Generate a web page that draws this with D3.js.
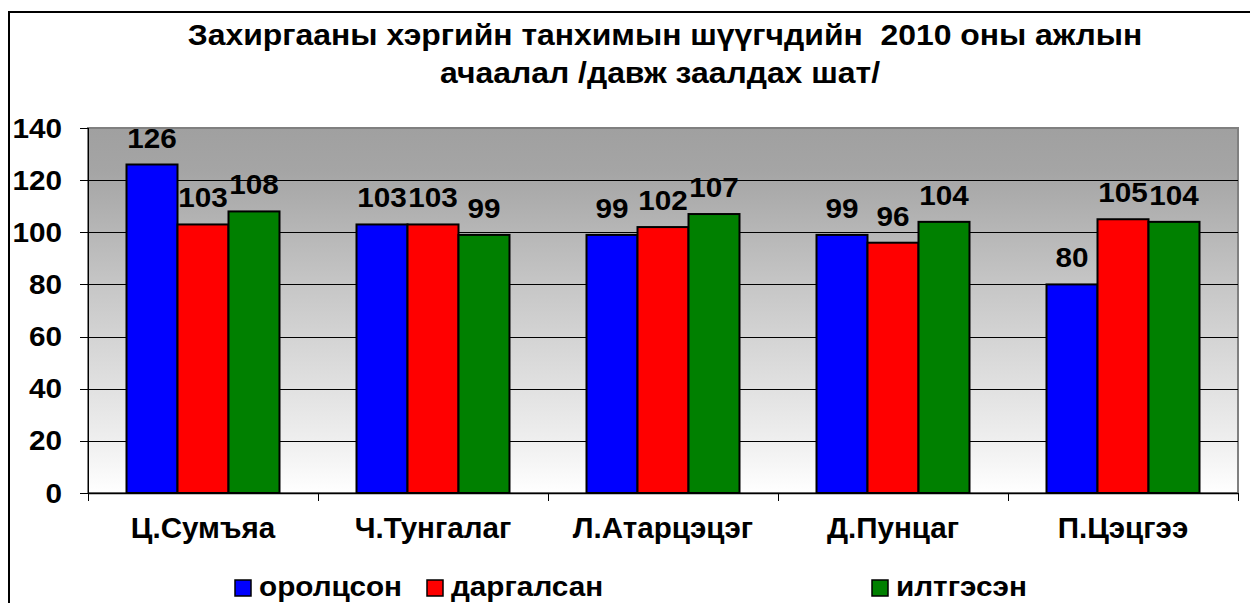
<!DOCTYPE html>
<html>
<head>
<meta charset="utf-8">
<script src="https://cdn.jsdelivr.net/npm/d3@7"></script>
<style>
html,body{margin:0;padding:0;background:#fff;}
svg{display:block;}
text{font-family:"Liberation Sans",Arial,sans-serif;font-weight:bold;fill:#000;white-space:pre;}
</style>
</head>
<body>
<svg id="chart" width="1250" height="603"></svg>
<script>
const titleLines = ["Захиргааны хэргийн танхимын шүүгчдийн  2010 оны ажлын", "ачаалал /давж заалдах шат/"];
const categories = ["Ц.Сумъяа", "Ч.Тунгалаг", "Л.Атарцэцэг", "Д.Пунцаг", "П.Цэцгээ"];
const seriesNames = ["оролцсон", "даргалсан", "илтгэсэн"];
const seriesColors = ["#0000ff", "#ff0000", "#008000"];
const orolcson = [126, 103, 99, 99, 80];
const dargalsan = [103, 103, 102, 96, 105];
const iltgesen = [108, 99, 107, 104, 104];
const yTicks = [0, 20, 40, 60, 80, 100, 120, 140];

const seriesValues = [orolcson, dargalsan, iltgesen];
const svg = d3.select("#chart");
const SX = 1.1;

const plot = {left: 88, right: 1238, top: 128, bottom: 493};
const x0 = d3.scaleBand().domain(categories).range([plot.left, plot.right]).padding(0);
const x1 = d3.scaleBand().domain(seriesNames).range([38.5, 191.5]).padding(0);
const y = d3.scaleLinear().domain([0, 140]).range([plot.bottom, plot.top]);

function stext(g, str, x, yy, anchor, size, sx) {
  return g.append("text")
    .attr("transform", `translate(${x},${yy}) scale(${sx || SX},1)`)
    .attr("text-anchor", anchor)
    .style("font-size", size + "px")
    .text(str);
}

// outer frame
svg.append("rect").attr("x", 9).attr("y", 12).attr("width", 1250).attr("height", 700)
  .attr("fill", "#fff").attr("stroke", "#000").attr("stroke-width", 2);

// gradient
const defs = svg.append("defs");
const grad = defs.append("linearGradient").attr("id", "bg").attr("x1", 0).attr("y1", 0).attr("x2", 0).attr("y2", 1);
[[0, "#a0a0a0"], [0.12, "#a5a5a5"], [0.45, "#c8c8c8"], [0.85, "#eeeeee"], [1, "#ffffff"]].forEach(([o, c]) =>
  grad.append("stop").attr("offset", o).attr("stop-color", c));

svg.append("rect").attr("x", plot.left).attr("y", plot.top)
  .attr("width", plot.right - plot.left).attr("height", plot.bottom - plot.top)
  .attr("fill", "url(#bg)").attr("stroke", "#808080").attr("stroke-width", 2);

// gridlines
svg.append("g").attr("shape-rendering", "crispEdges").selectAll("line").data(yTicks.filter(t => t > 0 && t < 140)).join("line")
  .attr("x1", plot.left).attr("x2", plot.right)
  .attr("y1", d => Math.round(y(d)) + 0.5).attr("y2", d => Math.round(y(d)) + 0.5)
  .attr("stroke", "#000").attr("stroke-width", 1);

// y axis
const yAxis = d3.axisLeft(y).tickValues(yTicks).tickSize(8).tickFormat("");
const ya = svg.append("g").attr("transform", `translate(${plot.left},0)`).attr("shape-rendering", "crispEdges").call(yAxis);
ya.select(".domain").attr("stroke", "#000").attr("stroke-width", 1);
ya.selectAll(".tick line").attr("stroke", "#000");
const yLab = svg.append("g");
yTicks.forEach(t => stext(yLab, String(t), 62, y(t) + 9.5, "end", 27));

// x axis
const xAxis = d3.axisBottom(x0).tickSize(0).tickFormat("");
const xa = svg.append("g").attr("transform", `translate(0,${plot.bottom})`).call(xAxis);
xa.select(".domain").attr("stroke", "#000").attr("stroke-width", 1.5);
const bounds = categories.map(c => x0(c)).concat([plot.right]);
svg.append("g").attr("shape-rendering", "crispEdges").selectAll("line").data(bounds).join("line")
  .attr("x1", d => d).attr("x2", d => d).attr("y1", plot.bottom).attr("y2", plot.bottom + 8)
  .attr("stroke", "#000").attr("stroke-width", 1);
const xLab = svg.append("g");
categories.forEach(c => stext(xLab, c, x0(c) + x0.bandwidth() / 2, 538, "middle", 29, 1.02));

// bars
const groups = svg.append("g").selectAll("g").data(categories).join("g")
  .attr("transform", c => `translate(${x0(c)},0)`);
groups.selectAll("rect").data((c, i) => seriesNames.map((s, k) => ({s, k, v: seriesValues[k][i]}))).join("rect")
  .attr("x", d => x1(d.s)).attr("width", x1.bandwidth())
  .attr("y", d => y(d.v)).attr("height", d => y(0) - y(d.v))
  .attr("fill", d => seriesColors[d.k]).attr("stroke", "#000").attr("stroke-width", 2);

// data labels
const lab = svg.append("g");
categories.forEach((c, i) => {
  seriesNames.forEach((s, k) => {
    const v = seriesValues[k][i];
    stext(lab, String(v), x0(c) + x1(s) + x1.bandwidth() / 2, y(v) - 17, "middle", 27, 1.1);
  });
});

// title
const tg = svg.append("g");
stext(tg, titleLines[0], 665, 45, "middle", 29);
stext(tg, titleLines[1], 660, 83, "middle", 29);

// legend
const legendX = [235, 427, 872];
const lg = svg.append("g");
seriesNames.forEach((s, k) => {
  lg.append("rect").attr("x", legendX[k]).attr("y", 580).attr("width", 16).attr("height", 16)
    .attr("fill", seriesColors[k]).attr("stroke", "#000").attr("stroke-width", 1.5);
  stext(lg, s, legendX[k] + 24, 596, "start", 27);
});
</script>
</body>
</html>
